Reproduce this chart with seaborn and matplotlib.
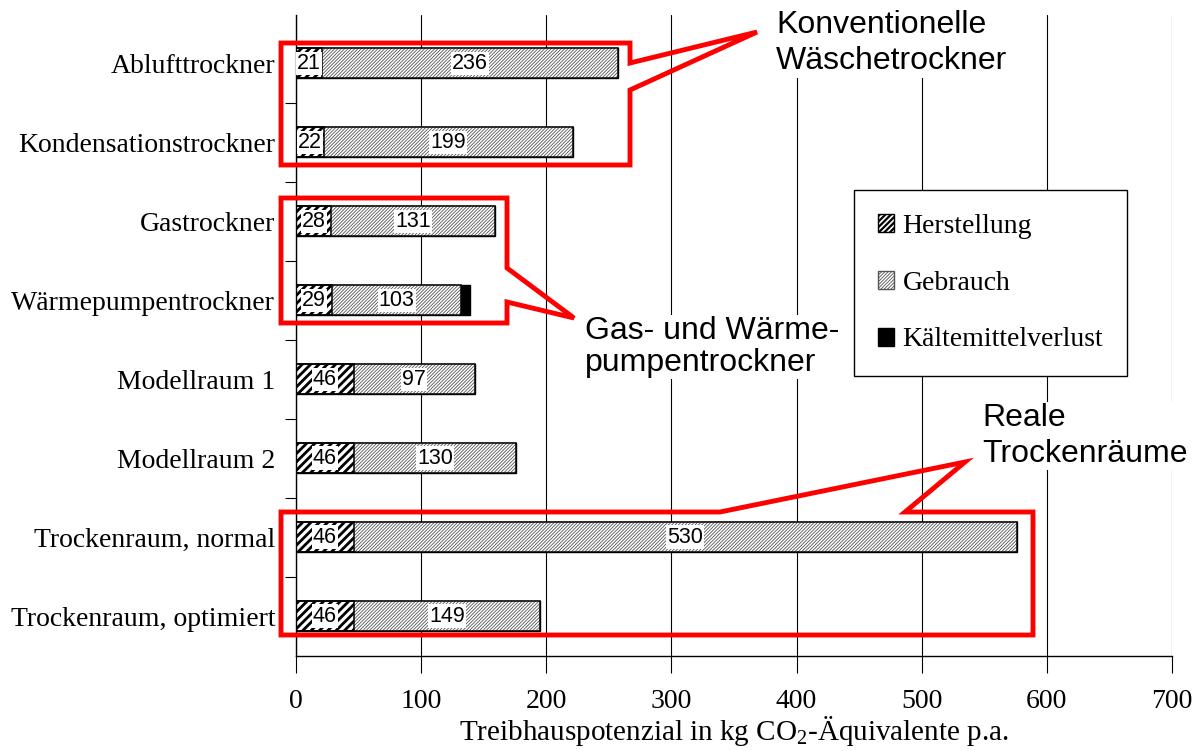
import matplotlib
matplotlib.use("Agg")
import matplotlib.pyplot as plt
import matplotlib.patches as mpatches
import seaborn as sns
import pandas as pd
import numpy as np

# data
categories = ["Ablufttrockner", "Kondensationstrockner", "Gastrockner",
              "Wärmepumpentrockner", "Modellraum 1", "Modellraum 2",
              "Trockenraum, normal", "Trockenraum, optimiert"]
herstellung = [21, 22, 28, 29, 46, 46, 46, 46]
gebrauch = [236, 199, 131, 103, 97, 130, 530, 149]
kaelte = [0, 0, 0, 7, 0, 0, 0, 0]
x_ticks = [0, 100, 200, 300, 400, 500, 600, 700]

df = pd.DataFrame({"Kategorie": categories, "Herstellung": herstellung,
                   "Gebrauch": gebrauch, "Kaelte": kaelte})
df["bis_gebrauch"] = df["Herstellung"] + df["Gebrauch"]
df["gesamt"] = df["bis_gebrauch"] + df["Kaelte"]

sns.set_style("white")
plt.rcParams["font.family"] = ["Liberation Serif", "DejaVu Serif"]
plt.rcParams["mathtext.fontset"] = "custom"
plt.rcParams["mathtext.rm"] = "Liberation Serif"
plt.rcParams["mathtext.it"] = "Liberation Serif:italic"
for k in ("text.color", "axes.labelcolor", "xtick.color", "ytick.color"):
    plt.rcParams[k] = "black"

W, H = 1200, 751
fig = plt.figure(figsize=(12, 7.51), dpi=100)
L, R, T, B = 296, 1172, 15, 655.5
ax = fig.add_axes([L / W, 1 - B / H, (R - L) / W, (B - T) / H])

BAR_W = 0.38
HATCH_H, HATCH_G = "////", "//////////"
GEB_COL = "#555555"


def style_layer(container, hatch, hcolor, hlw):
    for p in container:
        p.set_hatch(hatch)
        p.set_edgecolor(hcolor)
        p.set_linewidth(0)
        if hasattr(p, "set_hatch_linewidth"):
            p.set_hatch_linewidth(hlw)


# totals first (black = Kaeltemittelverlust), then overlay the shorter stacks
sns.barplot(data=df, x="gesamt", y="Kategorie", order=categories, color="black",
            saturation=1, width=BAR_W, errorbar=None, edgecolor="black",
            linewidth=1, ax=ax)

with plt.rc_context({"hatch.linewidth": 0.6}):
    sns.barplot(data=df, x="bis_gebrauch", y="Kategorie", order=categories,
                color="white", saturation=1, width=BAR_W, errorbar=None, ax=ax)
    geb = ax.containers[-1]
    style_layer(geb, HATCH_G, GEB_COL, 0.6)

with plt.rc_context({"hatch.linewidth": 2.0}):
    sns.barplot(data=df, x="Herstellung", y="Kategorie", order=categories,
                color="white", saturation=1, width=BAR_W, errorbar=None, ax=ax)
    her = ax.containers[-1]
    style_layer(her, HATCH_H, "black", 2.0)

# black outlines for the hatched segments
for cont in (geb, her):
    for p in cont:
        ax.add_patch(mpatches.Rectangle(p.get_xy(), p.get_width(), p.get_height(),
                                        fill=False, edgecolor="black", lw=1.1, zorder=3))

# value labels
box = dict(facecolor="white", edgecolor="none", pad=0.8)
for i, (h, g) in enumerate(zip(herstellung, gebrauch)):
    ax.text(h / 2, i, str(h), ha="center", va="center", fontsize=15.5,
            family="Liberation Sans", bbox=box, zorder=4)
    ax.text(h + g / 2, i, str(g), ha="center", va="center", fontsize=15.5,
            family="Liberation Sans", bbox=box, zorder=4)

# axes
ax.set_xlim(0, 700)
ax.set_ylim(7.5, -0.61)
ax.set_xticks(x_ticks)
ax.set_xticklabels([str(t) for t in x_ticks])
ax.grid(axis="x", color="black", lw=0.8)
ax.grid(axis="y", visible=False)
ax.set_axisbelow(True)
for s in ("top", "right"):
    ax.spines[s].set_visible(False)
for s in ("left", "bottom"):
    ax.spines[s].set_color("black")
    ax.spines[s].set_linewidth(1)
ax.tick_params(axis="x", which="major", bottom=True, direction="out", length=12,
               width=0.8, pad=12, labelsize=20)
ax.tick_params(axis="y", which="major", left=False, length=0, pad=15, labelsize=20)
ax.set_yticks(np.arange(0.5, 7, 1), minor=True)
ax.tick_params(axis="y", which="minor", left=True, direction="out", length=8,
               width=0.8)
ax.set_ylabel("")
ax.set_xlabel(r"Treibhauspotenzial in kg CO$_2$-Äquivalente p.a.", fontsize=21,
              labelpad=0)

# legend
with plt.rc_context({"hatch.linewidth": 1.6}):
    handles = [
        mpatches.Patch(facecolor="white", edgecolor="black", hatch="//////", label="Herstellung"),
        mpatches.Patch(facecolor="white", edgecolor=GEB_COL, hatch=HATCH_G, label="Gebrauch"),
        mpatches.Patch(facecolor="black", edgecolor="black", label="Kältemittelverlust"),
    ]
    leg = ax.legend(handles=handles, loc="upper left", bbox_to_anchor=(854 / W, 1 - 190 / H),
                    bbox_transform=fig.transFigure, fontsize=20, frameon=True,
                    fancybox=False, edgecolor="black", framealpha=1, handlelength=0.6,
                    handleheight=0.6, handletextpad=0.3, labelspacing=1.15,
                    borderpad=0.85, borderaxespad=0)
leg.get_frame().set_linewidth(1)
for p, hlw in zip(leg.get_patches(), (1.6, 0.6, 1.0)):
    if hasattr(p, "set_hatch_linewidth"):
        p.set_hatch_linewidth(hlw)


# red callouts (figure pixel coordinates)
def fp(pts):
    return [(x / W, 1 - y / H) for x, y in pts]


callouts = [
    [(281, 43), (630, 43), (630, 63), (757, 32), (630, 90), (630, 165), (281, 165)],
    [(281, 198), (507, 198), (507, 268), (574, 318), (507, 302), (507, 323), (281, 323)],
    [(281, 512), (720, 512), (965, 462), (905, 512), (1033, 512), (1033, 635), (281, 635)],
]
for pts in callouts:
    fig.add_artist(mpatches.Polygon(fp(pts), closed=True, fill=False, edgecolor="#ff0000",
                                    lw=3.5, joinstyle="miter", transform=fig.transFigure,
                                    zorder=5))

tbox = dict(facecolor="white", edgecolor="none", pad=1)
notes = [
    (776, 43, "Konventionelle\nWäschetrockner", 1.3),
    (585, 347, "Gas- und Wärme-\npumpentrockner", 1.1),
    (982, 436, "Reale\nTrockenräume", 1.22),
]
for x, y, s, ls in notes:
    fig.text(x / W, 1 - y / H, s, ha="left", va="center", fontsize=23,
             family="Liberation Sans", linespacing=ls, bbox=tbox, zorder=6)

fig.savefig("out.png", dpi=100)
